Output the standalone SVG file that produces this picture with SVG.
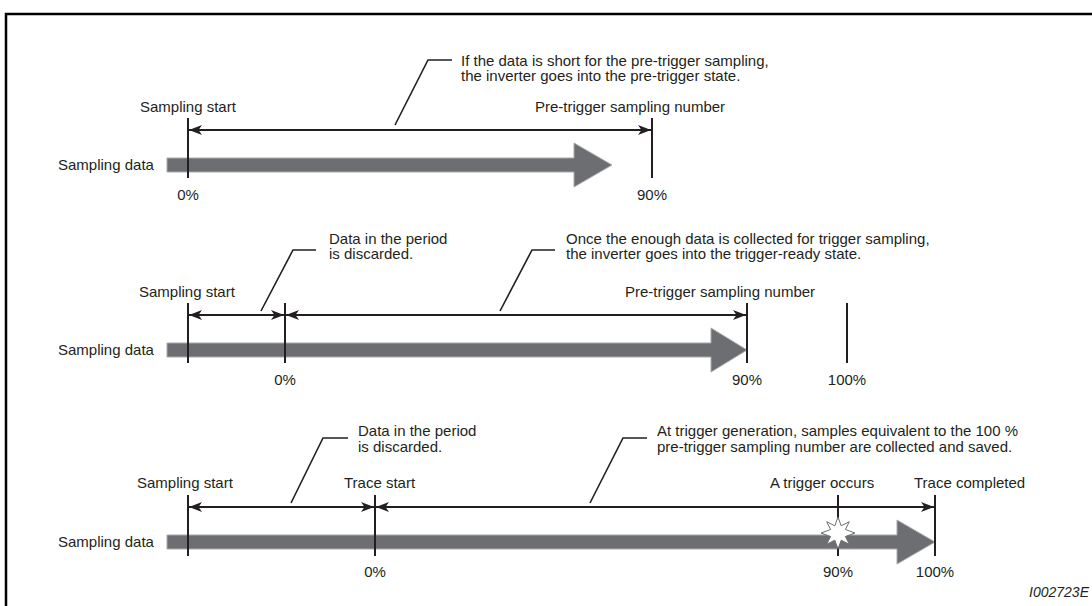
<svg xmlns="http://www.w3.org/2000/svg" width="1092" height="606" viewBox="0 0 1092 606">
<defs>
<marker id="ah" viewBox="0 0 13 10" refX="13" refY="5" markerWidth="13" markerHeight="10" markerUnits="userSpaceOnUse" orient="auto-start-reverse">
<path d="M0,0 L13,5 L0,10 L3.5,5 Z" fill="#231f20"/>
</marker>
</defs>
<style>
text{font-family:"Liberation Sans",Arial,sans-serif;font-size:15px;fill:#231f20}
.mid{text-anchor:middle}
.tick{stroke:#231f20;stroke-width:2}
.dim{stroke:#231f20;stroke-width:2;fill:none}
.lead{stroke:#231f20;stroke-width:1.6;fill:none}
.bar{fill:#6d6e71;stroke:#a7a9ac;stroke-width:1}
</style>
<rect x="6" y="14" width="1100" height="600" fill="none" stroke="#000" stroke-width="2.5"/>

<g id="panel1">
<text x="58" y="170">Sampling data</text>
<path class="bar" d="M167,158 H574 V143 L612,165 L574,187 V172 H167 Z"/>
<line class="tick" x1="188" y1="118" x2="188" y2="178"/>
<line class="tick" x1="652" y1="118" x2="652" y2="178"/>
<text x="140" y="112">Sampling start</text>
<text x="535" y="112">Pre-trigger sampling number</text>
<text class="mid" x="188" y="200">0%</text>
<text class="mid" x="652" y="200">90%</text>
<text x="461" y="66">If the data is short for the pre-trigger sampling,</text>
<text x="461" y="81">the inverter goes into the pre-trigger state.</text>
</g>

<g id="panel2">
<text x="58" y="355">Sampling data</text>
<path class="bar" d="M167,343 H711 V328 L747,350 L711,372 V357 H167 Z"/>
<line class="tick" x1="188" y1="303" x2="188" y2="363"/>
<line class="tick" x1="285" y1="303" x2="285" y2="363"/>
<line class="tick" x1="747" y1="303" x2="747" y2="363"/>
<line class="tick" x1="847" y1="303" x2="847" y2="363"/>
<text x="139" y="297">Sampling start</text>
<text x="625" y="297">Pre-trigger sampling number</text>
<text class="mid" x="285" y="385">0%</text>
<text class="mid" x="747" y="385">90%</text>
<text class="mid" x="847" y="385">100%</text>
<text x="329" y="244">Data in the period</text>
<text x="329" y="259">is discarded.</text>
<text x="566" y="244">Once the enough data is collected for trigger sampling,</text>
<text x="566" y="259">the inverter goes into the trigger-ready state.</text>
</g>

<g id="panel3">
<text x="58" y="547">Sampling data</text>
<path class="bar" d="M167,535 H897 V520 L935,542 L897,564 V549 H167 Z"/>
<line class="tick" x1="188" y1="495" x2="188" y2="556"/>
<line class="tick" x1="375" y1="495" x2="375" y2="556"/>
<line class="tick" x1="838" y1="495" x2="838" y2="556"/>
<line class="tick" x1="935" y1="495" x2="935" y2="556"/>
<path d="M838,517 L841.2,525.8 L849.3,521.7 L845.4,529.5 L855,533 L845.4,536.5 L849.3,544.3 L841.2,540.2 L838,549 L834.8,540.2 L826.7,544.3 L830.6,536.5 L821,533 L830.6,529.5 L826.7,521.7 L834.8,525.8 Z" fill="#fff" stroke="#6d6e71" stroke-width="1"/>
<text x="137" y="488">Sampling start</text>
<text x="344" y="488">Trace start</text>
<text x="770" y="488">A trigger occurs</text>
<text x="914" y="488">Trace completed</text>
<text class="mid" x="375" y="577">0%</text>
<text class="mid" x="838" y="577">90%</text>
<text class="mid" x="935" y="577">100%</text>
<text x="358" y="436">Data in the period</text>
<text x="358" y="452">is discarded.</text>
<text x="657" y="436">At trigger generation, samples equivalent to the 100 %</text>
<text x="657" y="452">pre-trigger sampling number are collected and saved.</text>
<text x="1089" y="597" style="font-style:italic;font-size:14px;text-anchor:end">I002723E</text>
</g>

<g id="connectors">
<line class="dim" x1="189" y1="130" x2="651" y2="130" marker-start="url(#ah)" marker-end="url(#ah)"/>
<line class="dim" x1="189" y1="315" x2="284" y2="315" marker-start="url(#ah)" marker-end="url(#ah)"/>
<line class="dim" x1="286" y1="315" x2="746" y2="315" marker-start="url(#ah)" marker-end="url(#ah)"/>
<line class="dim" x1="189" y1="507" x2="374" y2="507" marker-start="url(#ah)" marker-end="url(#ah)"/>
<line class="dim" x1="376" y1="507" x2="934" y2="507" marker-start="url(#ah)" marker-end="url(#ah)"/>
<polyline class="lead" points="452,60 428,60 395,125"/>
<polyline class="lead" points="316,250 293,250 261,311"/>
<polyline class="lead" points="555,250 532,250 500,311"/>
<polyline class="lead" points="348,438 323,438 291,503"/>
<polyline class="lead" points="647,438 623,438 590,503"/>
</g>
</svg>
